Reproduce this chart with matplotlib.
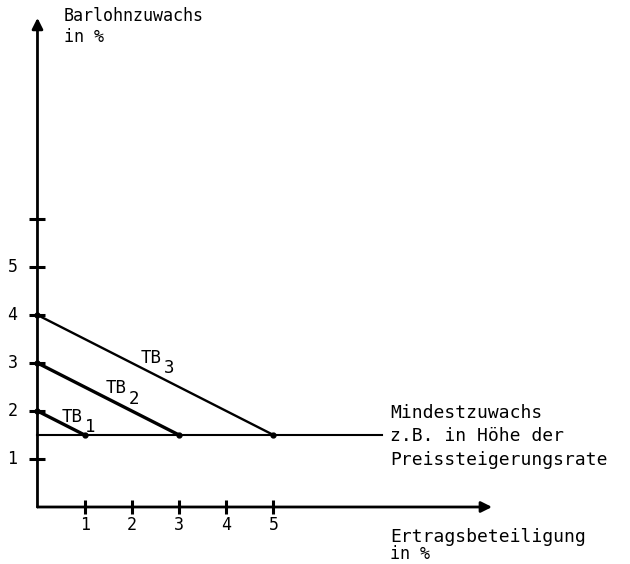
import matplotlib.pyplot as plt
import numpy as np

# Data
y_ticks = [1, 2, 3, 4, 5, 6]
y_tick_labels = ["1", "2", "3", "4", "5", ""]
x_ticks = [1, 2, 3, 4, 5]
x_tick_labels = ["1", "2", "3", "4", "5"]

minimum = 1.5          # Mindestzuwachs
minimum_end = 7.3      # where the horizontal line stops
tb_names = ["1", "2", "3"]
tb_start = [2, 3, 4]   # Barlohnzuwachs at 0 % Ertragsbeteiligung
tb_end = [1, 3, 5]     # Ertragsbeteiligung where the minimum is reached
tb_widths = [2.4, 2.4, 1.7]
tb_label_pos = [(0.73, 1.87), (1.66, 2.47), (2.4, 3.1)]

font = "DejaVu Sans Mono"
plt.rcParams["font.family"] = font

fig = plt.figure(figsize=(6.3, 5.64), dpi=100)
ax = fig.add_axes([0, 0, 1, 1])
ax.set_xlim(-0.794, 12.553)
ax.set_ylim(-1.1875, 10.5625)
ax.axis("off")

# axes with arrows
arrow = dict(arrowstyle="-|>", lw=2, color="black", mutation_scale=16,
             shrinkA=0, shrinkB=0)
ax.annotate("", xy=(0, 10.19), xytext=(0, 0), arrowprops=arrow)
ax.annotate("", xy=(9.63, 0), xytext=(0, 0), arrowprops=arrow)

# ticks
ax.plot(np.zeros(len(y_ticks)), y_ticks, linestyle="none", marker="_",
        markersize=11, markeredgewidth=2.2, color="black")
ax.plot(x_ticks, np.zeros(len(x_ticks)), linestyle="none", marker="|",
        markersize=10, markeredgewidth=2.2, color="black")
for t, lab in zip(y_ticks, y_tick_labels):
    ax.text(-0.53, t, lab, ha="center", va="center", fontsize=12)
for t, lab in zip(x_ticks, x_tick_labels):
    ax.text(t, -0.38, lab, ha="center", va="center", fontsize=12)

# minimum line
ax.plot([0, minimum_end], [minimum, minimum], color="black", lw=1.5)

# TB lines
for name, s, e, w, (lx, ly) in zip(tb_names, tb_start, tb_end, tb_widths, tb_label_pos):
    ax.plot([0, e], [s, minimum], color="black", lw=w, marker="o",
            markersize=3.5, solid_capstyle="round")
    ax.text(lx, ly, "TB", ha="center", va="center", fontsize=12.5)
    ax.text(lx + 0.39, ly - 0.21, name, ha="center", va="center", fontsize=12.5)

# labels
ax.text(0.56, 10.23, "Barlohnzuwachs", ha="left", va="center", fontsize=12)
ax.text(0.56, 9.79, "in %", ha="left", va="center", fontsize=12)

ax.text(7.47, 1.96, "Mindestzuwachs", ha="left", va="center", fontsize=13)
ax.text(7.47, 1.48, "z.B. in Höhe der", ha="left", va="center", fontsize=13)
ax.text(7.47, 0.98, "Preissteigerungsrate", ha="left", va="center", fontsize=13)

ax.text(7.47, -0.63, "Ertragsbeteiligung", ha="left", va="center", fontsize=13)
ax.text(7.47, -0.97, "in %", ha="left", va="center", fontsize=12)

fig.savefig("out.png", dpi=100)
